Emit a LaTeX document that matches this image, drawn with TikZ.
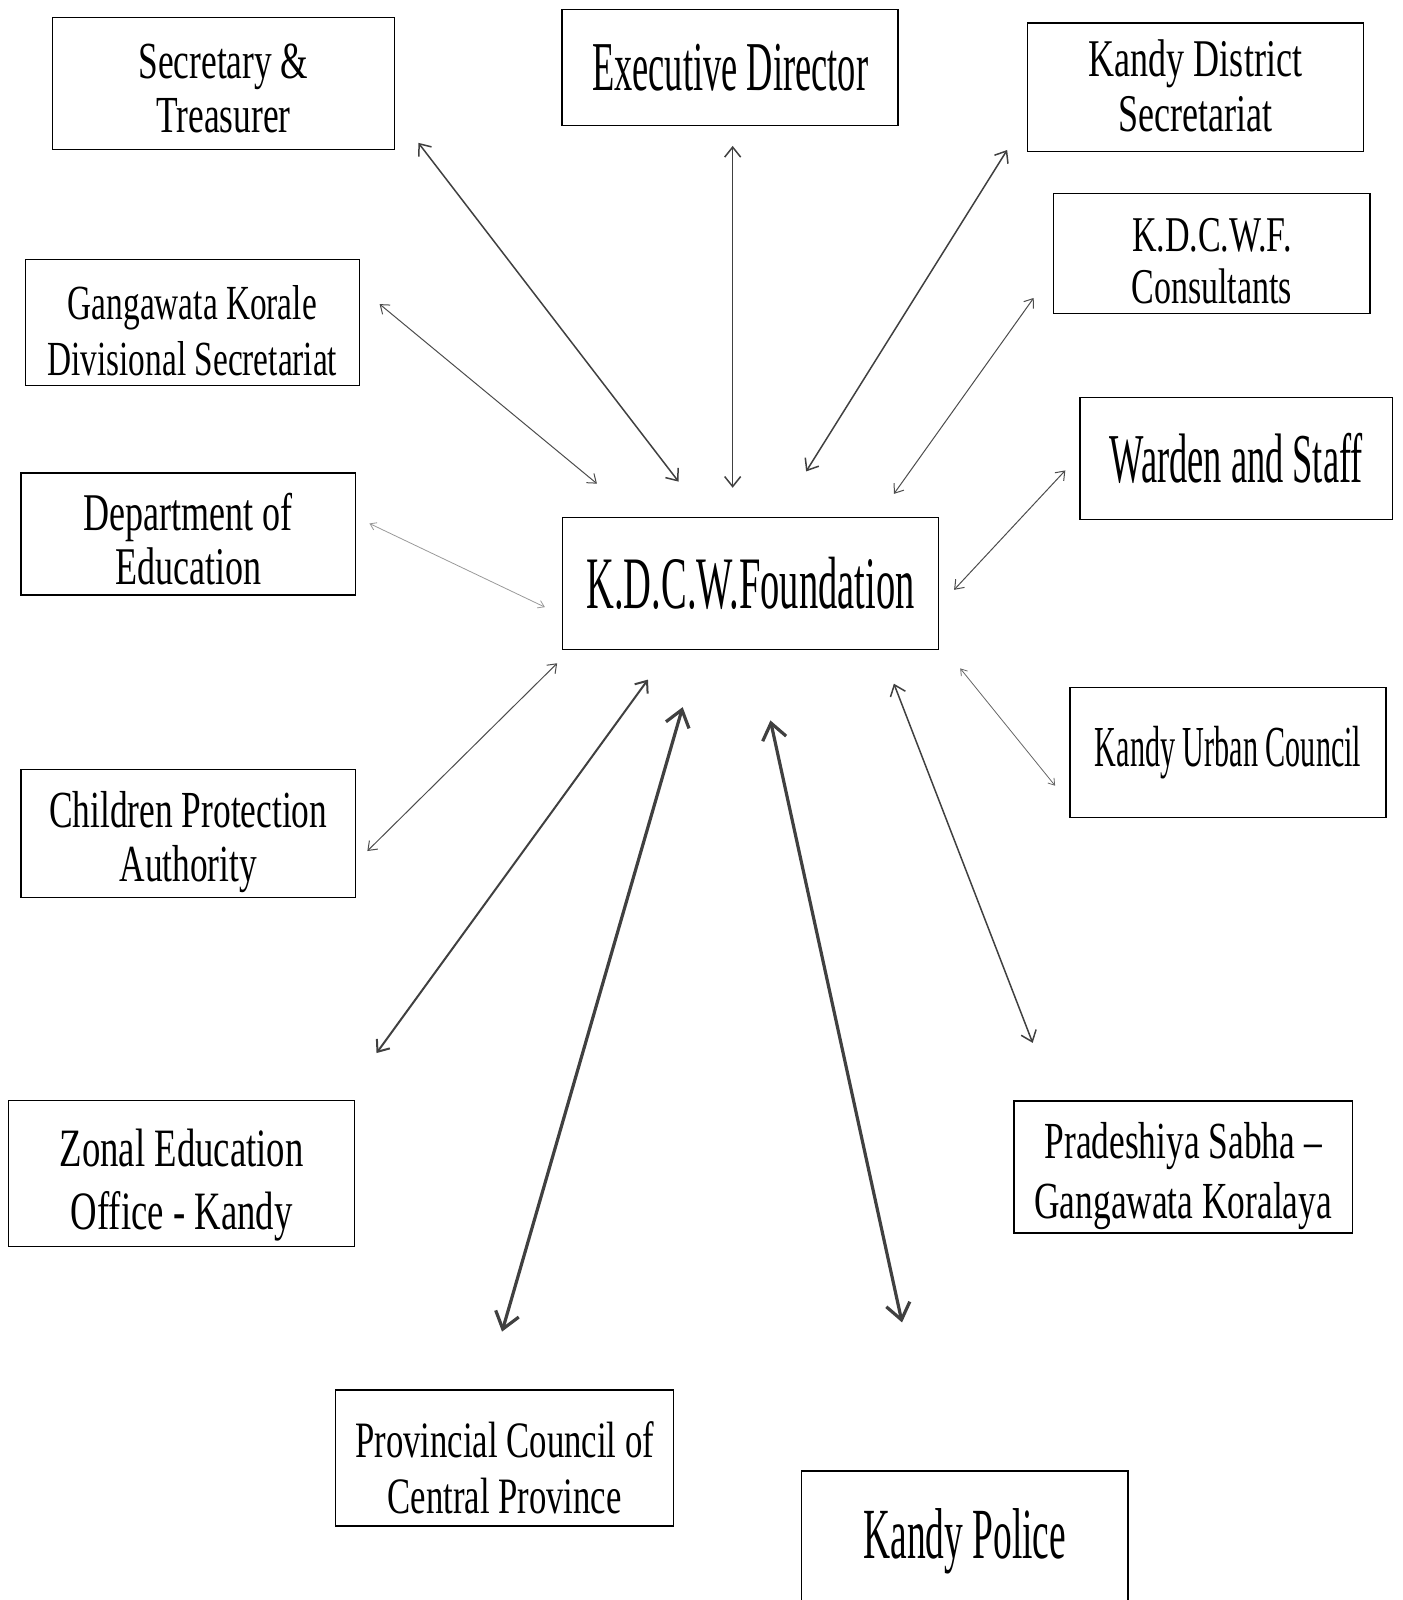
\documentclass[tikz,border=0pt]{standalone}
\usepackage{fontspec}
\setmainfont[FakeStretch=0.68]{Liberation Serif}
\newfontfamily\narrowfont[FakeStretch=0.52]{Liberation Serif}
\usetikzlibrary{arrows.meta}

\begin{document}
\begin{tikzpicture}[%
    x=0.51pt, y=-0.51pt,
    box/.style={draw, line width=0.75pt, inner sep=0pt, align=center},
    twoline/.style={text height=#1, text depth=0pt},
    link/.style={<->, line width=0.75pt, draw=black!75,
      >={Straight Barb[length=5pt,width=8pt]}},
    thinlink/.style={<->, line width=0.5pt, draw=black!70,
      >={Straight Barb[length=4pt,width=6pt]}},
    faintlink/.style={<->, line width=0.4pt, draw=black!40,
      >={Straight Barb[length=3pt,width=4pt]}},
    thicklink/.style={<->, line width=1.6pt, draw=black!75,
      >={Straight Barb[length=8pt,width=12pt]}}
  ]
    \useasboundingbox (0,0) rectangle (1374,1568);

    % boxes
    \node[box, twoline=49pt, minimum width=171pt, minimum height=66pt,
      font=\fontsize{26}{27.3}\selectfont] (sec) at (219,82)
      {Secretary \&\\Treasurer};
    \node[box, minimum width=168pt, minimum height=58pt,
      font=\narrowfont\fontsize{35}{38}\selectfont] (exec) at (715.5,66)
      {Executive Director};
    \node[box, twoline=44.4pt, minimum width=168pt, minimum height=64pt,
      font=\fontsize{26.5}{27.5}\selectfont] (kds) at (1171.5,85.5)
      {Kandy District\\Secretariat};
    \node[box, twoline=49.5pt, minimum width=158pt, minimum height=60pt,
      font=\fontsize{25}{26}\selectfont] (cons) at (1187.5,248.5)
      {K.D.C.W.F.\\Consultants};
    \node[box, twoline=53pt, minimum width=167pt, minimum height=63pt,
      font=\fontsize{24.5}{28}\selectfont] (gkd) at (188.5,316)
      {Gangawata Korale\\Divisional Secretariat};
    \node[box, minimum width=156pt, minimum height=61pt,
      font=\narrowfont\fontsize{35}{38}\selectfont] (ward) at (1211.5,449.5)
      {Warden and Staff};
    \node[box, twoline=50.5pt, minimum width=167pt, minimum height=61pt,
      font=\fontsize{26.5}{27}\selectfont] (doe) at (184.5,523.5)
      {Department of\\Education};
    \node[box, minimum width=188pt, minimum height=66pt,
      font=\narrowfont\fontsize{37}{40}\selectfont] (fdn) at (735.5,572)
      {K.D.C.W.Foundation};
    \node[box, minimum width=158pt, minimum height=65pt,
      font=\narrowfont\fontsize{29}{30}\selectfont] (kuc) at (1203.5,737.5)
      {Kandy Urban Council};
    \node[box, twoline=48pt, minimum width=167pt, minimum height=64pt,
      font=\fontsize{26}{27}\selectfont] (cpa) at (184.5,817)
      {Children Protection\\Authority};
    \node[box, twoline=56pt, minimum width=173pt, minimum height=73pt,
      font=\fontsize{27}{31.6}\selectfont] (zeo) at (178,1150)
      {Zonal Education\\Office - Kandy};
    \node[box, twoline=51.5pt, minimum width=169pt, minimum height=66pt,
      font=\fontsize{26}{30}\selectfont] (psg) at (1159.5,1143.5)
      {Pradeshiya Sabha –\\Gangawata Koralaya};
    \node[box, twoline=55pt, minimum width=169pt, minimum height=68pt,
      font=\fontsize{25.5}{28}\selectfont] (pcc) at (494.5,1429)
      {Provincial Council of\\Central Province};
    \node[box, minimum width=163pt, minimum height=70pt,
      font=\narrowfont\fontsize{36}{38}\selectfont] (kp) at (945.5,1510)
      {Kandy Police};

    % arrow ends
    \coordinate (sec-a) at (410,140);   \coordinate (sec-b) at (665,472);
    \coordinate (exec-a) at (718,143);  \coordinate (exec-b) at (718,478);
    \coordinate (kds-a) at (987,147);   \coordinate (kds-b) at (790,462);
    \coordinate (cons-a) at (1013,292); \coordinate (cons-b) at (876,484);
    \coordinate (gkd-a) at (372,298);   \coordinate (gkd-b) at (585,474);
    \coordinate (ward-a) at (1044,461); \coordinate (ward-b) at (935,578);
    \coordinate (doe-a) at (362,513);   \coordinate (doe-b) at (534,595);
    \coordinate (cpa-a) at (360,834);   \coordinate (cpa-b) at (546,650);
    \coordinate (zeo-a) at (369,1032);  \coordinate (zeo-b) at (635,666);
    \coordinate (pcc-a) at (492,1305);  \coordinate (pcc-b) at (669,693);
    \coordinate (kp-a) at (884,1296);   \coordinate (kp-b) at (755,706);
    \coordinate (psg-a) at (1012,1022); \coordinate (psg-b) at (876,670);
    \coordinate (kuc-a) at (1034,770);  \coordinate (kuc-b) at (941,655);

    \draw[link] (sec-a) -- (sec-b);
    \draw[link] (exec-a) -- (exec-b);
    \draw[link] (kds-a) -- (kds-b);
    \draw[thinlink] (cons-a) -- (cons-b);
    \draw[thinlink] (gkd-a) -- (gkd-b);
    \draw[thinlink] (ward-a) -- (ward-b);
    \draw[faintlink] (doe-a) -- (doe-b);
    \draw[thinlink] (cpa-a) -- (cpa-b);
    \draw[link, line width=1pt] (zeo-a) -- (zeo-b);
    \draw[thicklink] (pcc-a) -- (pcc-b);
    \draw[thicklink] (kp-a) -- (kp-b);
    \draw[link] (psg-a) -- (psg-b);
    \draw[faintlink, draw=black!60] (kuc-a) -- (kuc-b);
\end{tikzpicture}
\end{document}
